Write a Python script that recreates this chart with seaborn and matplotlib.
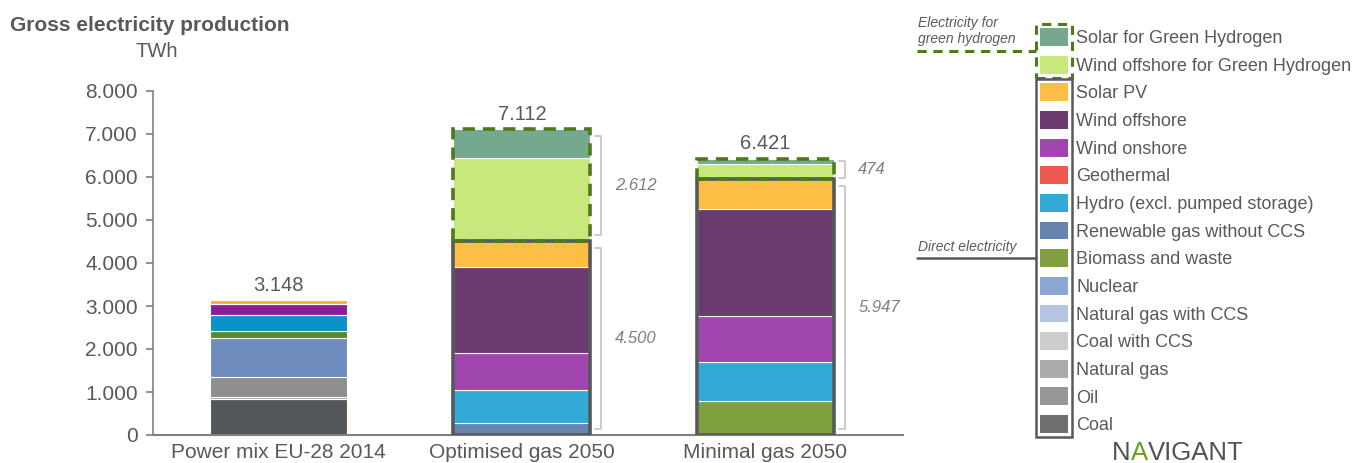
import matplotlib
matplotlib.use("Agg")
import matplotlib.pyplot as plt
import seaborn as sns
import numpy as np
from matplotlib.patches import Patch, Rectangle
from matplotlib.lines import Line2D
from matplotlib.ticker import FuncFormatter

# Data (TWh)
scenarios = ["Power mix EU-28 2014", "Optimised gas 2050", "Minimal gas 2050"]

# stacking order, bottom -> top
sources = [
    "Coal", "Oil", "Natural gas", "Coal with CCS", "Natural gas with CCS",
    "Nuclear", "Biomass and waste", "Renewable gas without CCS",
    "Hydro (excl. pumped storage)", "Geothermal", "Wind onshore",
    "Wind offshore", "Solar PV", "Wind offshore for Green Hydrogen",
    "Solar for Green Hydrogen",
]
coal = [830, 0, 0]
oil = [65, 0, 0]
natural_gas = [465, 0, 0]
coal_ccs = [0, 0, 0]
gas_ccs = [0, 0, 0]
nuclear = [885, 0, 0]
biomass = [170, 0, 790]
renewable_gas = [0, 270, 0]
hydro = [380, 765, 908]
geothermal = [0, 0, 0]
wind_onshore = [250, 872, 1058]
wind_offshore = [0, 2000, 2500]
solar_pv = [103, 593, 691]
wind_offshore_h2 = [0, 1950, 355]
solar_h2 = [0, 662, 119]

values = [coal, oil, natural_gas, coal_ccs, gas_ccs, nuclear, biomass,
          renewable_gas, hydro, geothermal, wind_onshore, wind_offshore,
          solar_pv, wind_offshore_h2, solar_h2]

colors = {
    "Coal": "#6f6f6f", "Oil": "#979797", "Natural gas": "#aaaaaa",
    "Coal with CCS": "#cdcdcd", "Natural gas with CCS": "#b5c6e2",
    "Nuclear": "#8ca7d3", "Biomass and waste": "#7f9f40",
    "Renewable gas without CCS": "#6783b0",
    "Hydro (excl. pumped storage)": "#33a9d8", "Geothermal": "#ee5a50",
    "Wind onshore": "#a145af", "Wind offshore": "#6b3b6f",
    "Solar PV": "#fdbe45", "Wind offshore for Green Hydrogen": "#c8e87c",
    "Solar for Green Hydrogen": "#74a98e",
}
# the 2014 bar uses slightly different tones in the original
colors_2014 = {
    "Coal": "#53575a", "Oil": "#a0a0a0", "Natural gas": "#8e8e8e",
    "Nuclear": "#6e8cbd", "Biomass and waste": "#5a8a2a",
    "Hydro (excl. pumped storage)": "#0a93c9", "Wind onshore": "#8a1e98",
    "Solar PV": "#f7b432",
}

GREY = "#595959"
GREEN = "#4f7a1b"
fmt = lambda v: f"{v:,.0f}".replace(",", ".")

sns.set_theme(style="white")
plt.rcParams["font.family"] = ["Liberation Sans", "DejaVu Sans"]

W, H = 1355, 463
fig = plt.figure(figsize=(W / 100, H / 100), dpi=100)
ax = fig.add_axes([153 / W, 28 / H, 750 / W, 344 / H])

bar_w = 0.563
bottom = np.zeros(len(scenarios))
for src, vals in zip(sources, values):
    sns.barplot(x=scenarios, y=vals, order=scenarios, color=colors[src],
                bottom=bottom, width=bar_w, errorbar=None, saturation=1,
                edgecolor="white", linewidth=0.8, ax=ax)
    new = ax.patches[-len(scenarios):]
    if src in colors_2014:
        new[0].set_facecolor(colors_2014[src])
    for p, v in zip(new, vals):
        if v == 0:
            p.set_visible(False)
    bottom = bottom + np.array(vals)

totals = bottom
h2 = np.array(wind_offshore_h2) + np.array(solar_h2)
direct = totals - h2

# outlines, brackets and totals
for i, name in enumerate(scenarios):
    ax.annotate(fmt(totals[i]), (i, totals[i]), xytext=(0, 3 if h2[i] == 0 else 4),
                textcoords="offset points", ha="center", va="bottom",
                fontsize=14.5, color=GREY)
    if h2[i] == 0:
        continue
    x0 = i - bar_w / 2
    ax.add_patch(Rectangle((x0, 0), bar_w, direct[i], fill=False,
                           edgecolor="#55595c", lw=2.6, zorder=5))
    ax.add_patch(Rectangle((x0, direct[i]), bar_w, h2[i], fill=False,
                           edgecolor=GREEN, lw=2.6, zorder=6,
                           linestyle=(0, (3.4, 2.2))))
    bx = i + bar_w / 2 + 0.045
    for lo, hi in [(0, direct[i]), (direct[i], totals[i])]:
        pad = min(150, 0.08 * (hi - lo))
        ax.plot([bx - 0.025, bx, bx, bx - 0.025],
                [lo + pad, lo + pad, hi - pad, hi - pad],
                color="#c8c8c8", lw=1.3, zorder=4)
        ax.text(bx + 0.055, (lo + hi) / 2, fmt(hi - lo), style="italic",
                fontsize=12, color="#7f7f7f", va="center", ha="left")

ax.set_xlim(-0.515, 2.565)
ax.set_ylim(0, 8000)
ax.set_yticks(range(0, 8001, 1000))
ax.yaxis.set_major_formatter(FuncFormatter(lambda v, _: fmt(v)))
ax.set_xlabel("")
ax.set_ylabel("")
sns.despine(ax=ax)
for s in ["left", "bottom"]:
    ax.spines[s].set_color("#808080")
ax.spines["left"].set_linewidth(1.2)
ax.spines["bottom"].set_linewidth(1.5)
ax.tick_params(axis="y", left=True, direction="out", length=5, width=1.2,
               color="#808080", labelsize=15, labelcolor=GREY, pad=6)
ax.tick_params(axis="x", length=0, labelsize=15, labelcolor=GREY, pad=6)

fig.text(10 / W, 1 - 31 / H, "Gross electricity production", fontsize=15,
         weight="bold", color=GREY, va="baseline")
fig.text(135 / W, 1 - 57 / H, "TWh", fontsize=14.5, color=GREY,
         va="baseline")

# legend, top -> bottom
handles = [Patch(facecolor=colors[s], edgecolor="none") for s in sources[::-1]]
leg = fig.legend(handles, sources[::-1], loc="upper left",
                 bbox_to_anchor=(1040 / W, 1 - 28 / H), frameon=False,
                 fontsize=13, handlelength=1.55, handleheight=1.15,
                 handletextpad=0.45, labelspacing=0.475, borderpad=0,
                 borderaxespad=0, labelcolor=GREY)

fig.canvas.draw()
inv = fig.transFigure.inverted()
hb = [inv.transform_bbox(h.get_window_extent()) for h in leg.legend_handles]
dx, dy = 4 / W, 4 / H


def box(top, bot, **kw):
    x0, x1 = hb[top].x0 - dx, hb[top].x1 + dx
    y0, y1 = hb[bot].y0 - dy, hb[top].y1 + dy
    fig.add_artist(Rectangle((x0, y0), x1 - x0, y1 - y0, fill=False,
                             transform=fig.transFigure, **kw))
    return x0


gx = box(0, 1, edgecolor=GREEN, lw=2.2, linestyle=(0, (3, 2.2)))
dx0 = box(2, len(sources) - 1, edgecolor=GREY, lw=1.8)

yg = (hb[0].y0 + hb[1].y1) / 2
fig.add_artist(Line2D([917 / W, gx], [yg, yg], color=GREEN, lw=2.2,
                      linestyle=(0, (3, 2.2)), transform=fig.transFigure))
fig.text(918 / W, yg + 5 / H, "Electricity for\ngreen hydrogen",
         fontsize=10, style="italic", color=GREY, va="bottom",
         linespacing=1.15)

bio = sources[::-1].index("Biomass and waste")
yd = (hb[bio].y0 + hb[bio].y1) / 2
fig.add_artist(Line2D([917 / W, dx0], [yd, yd], color=GREY, lw=1.8,
                      transform=fig.transFigure))
fig.text(918 / W, yd + 4 / H, "Direct electricity", fontsize=10,
         style="italic", color=GREY, va="bottom")

# logo text, with the green A
base = 3 / H
x = 1112 / W
for part, col in [("N", "#4d5358"), ("A", "#6aa022"), ("VIGANT", "#4d5358")]:
    t = fig.text(x, base, part, fontsize=18.5, color=col, va="baseline")
    fig.canvas.draw()
    x = inv.transform((t.get_window_extent().x1, 0))[0]

fig.savefig("out.png", dpi=100)
